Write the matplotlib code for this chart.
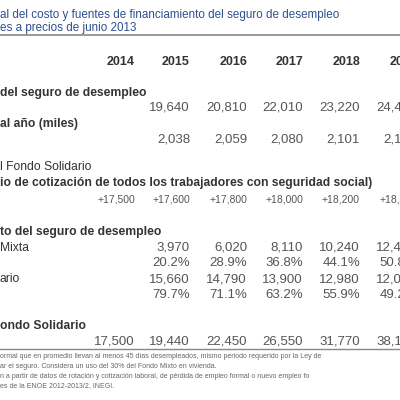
import matplotlib
matplotlib.use('Agg')
import matplotlib.pyplot as plt
from matplotlib.lines import Line2D

plt.rcParams['font.family'] = ['Liberation Sans', 'DejaVu Sans']

years = ['2014', '2015', '2016', '2017', '2018', '2019']
costo = [None, '19,640', '20,810', '22,010', '23,220', '24,430']
benef = [None, '2,038', '2,059', '2,080', '2,101', '2,122']
aport = ['+17,500', '+17,600', '+17,800', '+18,000', '+18,200', '+18,400']
mixto = [None, '3,970', '6,020', '8,110', '10,240', '12,480']
mixto_pct = [None, '20.2%', '28.9%', '36.8%', '44.1%', '50.8%']
solid = [None, '15,660', '14,790', '13,900', '12,980', '12,000']
solid_pct = [None, '79.7%', '71.1%', '63.2%', '55.9%', '49.2%']
saldo = ['17,500', '19,440', '22,450', '26,550', '31,770', '38,100']

title = ['al del costo y fuentes de financiamiento del seguro de desempleo',
         'es a precios de junio 2013']
labels = [(93, 'del seguro de desempleo', 'bold'), (124, 'al año (miles)', 'bold'),
          (167, 'l Fondo Solidario', 'normal'),
          (183, 'io de cotización de todos los trabajadores con seguridad social)', 'bold'),
          (232, 'to del seguro de desempleo', 'bold'), (248, 'Mixta', 'normal'),
          (279, 'ario', 'normal'), (326, 'ondo Solidario', 'bold')]
notes = ['ormal que en promedio llevan al menos 45 días desempleados, mismo periodo requerido por la Ley de',
         'ar el seguro. Considera un uso del 30% del Fondo Mixto en vivienda.',
         'n a partir de datos de rotación y cotización laboral, de pérdida de empleo formal o nuevo empleo fo',
         'es de la ENOE 2012-2013/2, INEGI.']

W = H = 400
fig = plt.figure(figsize=(4, 4), dpi=100)
fig.patch.set_facecolor('white')

def t(x, y, s, **kw):
    fig.text(x / W, 1 - y / H, s, va='center', **kw)

for i, s in enumerate(title):
    t(0, 15 + 13 * i, s, fontsize=8.4, color='#2f4f8f')
fig.add_artist(Line2D([0, 1], [1 - 35 / H] * 2, color='#888888', lw=1.2))

xs = [135, 190, 247, 303, 360, 417]
for x, y in zip(xs, years):
    t(x, 62, y, ha='right', fontsize=9, fontweight='bold', color='#333333')

for y, s, w in labels:
    t(0, y, s, fontsize=8.7, fontweight=w, color='#333333')

rows = [(108, costo), (140, benef), (200, aport), (248, mixto), (263, mixto_pct),
        (279, solid), (295, solid_pct), (341, saldo)]
for y, vals in rows:
    for x, v in zip(xs, vals):
        if v:
            t(x, y, v, ha='right', fontsize=9.5 if y != 200 else 7.5, color='#555555')

fig.add_artist(Line2D([0, 1], [1 - 349 / H] * 2, color='#888888', lw=1))
for i, s in enumerate(notes):
    t(0, 356 + 10 * i, s, fontsize=5, color='#666666')

fig.savefig('out.png', dpi=100)
